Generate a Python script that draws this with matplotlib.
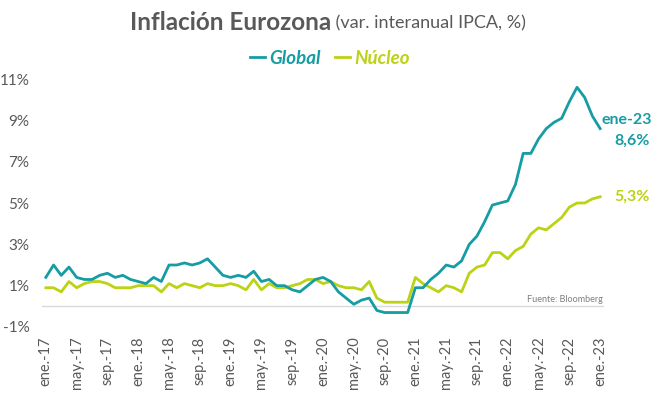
import matplotlib.pyplot as plt
import numpy as np

plt.rcParams["font.family"] = ["Lato", "DejaVu Sans"]

# monthly, ene-17 .. ene-23
global_vals = [
    1.4, 2.0, 1.5, 1.9, 1.4, 1.3, 1.3, 1.5, 1.6, 1.4, 1.5, 1.3,
    1.2, 1.1, 1.4, 1.2, 2.0, 2.0, 2.1, 2.0, 2.1, 2.3, 1.9, 1.5,
    1.4, 1.5, 1.4, 1.7, 1.2, 1.3, 1.0, 1.0, 0.8, 0.7, 1.0, 1.3,
    1.4, 1.2, 0.7, 0.4, 0.1, 0.3, 0.4, -0.2, -0.3, -0.3, -0.3, -0.3,
    0.9, 0.9, 1.3, 1.6, 2.0, 1.9, 2.2, 3.0, 3.4, 4.1, 4.9, 5.0,
    5.1, 5.9, 7.4, 7.4, 8.1, 8.6, 8.9, 9.1, 9.9, 10.6, 10.1, 9.2,
    8.6,
]
nucleo_vals = [
    0.9, 0.9, 0.7, 1.2, 0.9, 1.1, 1.2, 1.2, 1.1, 0.9, 0.9, 0.9,
    1.0, 1.0, 1.0, 0.7, 1.1, 0.9, 1.1, 1.0, 0.9, 1.1, 1.0, 1.0,
    1.1, 1.0, 0.8, 1.3, 0.8, 1.1, 0.9, 0.9, 1.0, 1.1, 1.3, 1.3,
    1.1, 1.2, 1.0, 0.9, 0.9, 0.8, 1.2, 0.4, 0.2, 0.2, 0.2, 0.2,
    1.4, 1.1, 0.9, 0.7, 1.0, 0.9, 0.7, 1.6, 1.9, 2.0, 2.6, 2.6,
    2.3, 2.7, 2.9, 3.5, 3.8, 3.7, 4.0, 4.3, 4.8, 5.0, 5.0, 5.2,
    5.3,
]
tick_labels = [
    "ene.-17", "may.-17", "sep.-17", "ene.-18", "may.-18", "sep.-18",
    "ene.-19", "may.-19", "sep.-19", "ene.-20", "may.-20", "sep.-20",
    "ene.-21", "may.-21", "sep.-21", "ene.-22", "may.-22", "sep.-22",
    "ene.-23",
]
y_ticks = [-1, 1, 3, 5, 7, 9, 11]

c_global = "#169CA3"
c_nucleo = "#BCD214"
grey = "#595959"

fig = plt.figure(figsize=(6.56, 3.93), dpi=100)
ax = fig.add_axes([42 / 656, 66 / 393, 562 / 656, 248 / 393])

x = np.arange(len(global_vals))
ax.axhline(0, color="#D9D9D9", lw=1.0, zorder=1)
ax.plot(x, nucleo_vals, color=c_nucleo, lw=2.0, solid_joinstyle="round", label="Núcleo", zorder=3)
ax.plot(x, global_vals, color=c_global, lw=2.0, solid_joinstyle="round", label="Global", zorder=3)

ax.set_xlim(-0.5, len(x) - 0.5)
ax.set_ylim(-1, 11)
ax.set_yticks(y_ticks)
ax.set_yticklabels([f"{v}%" for v in y_ticks], fontsize=11, color=grey)
ax.set_xticks(x[::4])
ax.set_xticklabels(tick_labels, rotation=90, fontsize=10.5, color=grey)
ax.tick_params(axis="both", length=0)
ax.tick_params(axis="y", pad=9)
ax.tick_params(axis="x", pad=7)
for s in ax.spines.values():
    s.set_visible(False)

# legend
h, l = ax.get_legend_handles_labels()
leg = fig.legend(h[::-1], l[::-1], loc="center", bbox_to_anchor=(330 / 656, 1 - 58 / 393),
                 ncol=2, frameon=False, handlelength=0.8, handletextpad=0.2,
                 columnspacing=0.8, prop={"weight": "bold", "style": "italic", "size": 13.5})
for t, c in zip(leg.get_texts(), [c_global, c_nucleo]):
    t.set_color(c)

# title: bold part + normal part, centred together
ta = fig.text(0, 1 - 23 / 393, "Inflación Eurozona", ha="left", va="center",
              fontsize=17.5, fontweight="bold", color=grey)
tb = fig.text(0, 1 - 23 / 393, " (var. interanual IPCA, %)", ha="left", va="center",
              fontsize=13, color=grey)
fig.canvas.draw()
r = fig.canvas.get_renderer()
wa = ta.get_window_extent(r).width
wb = tb.get_window_extent(r).width
x0 = (656 - wa - wb) / 2
ta.set_x(x0 / 656)
tb.set_x((x0 + wa) / 656)

# end labels
fig.text(652 / 656, 1 - 120 / 393, "ene-23", ha="right", va="center",
         fontsize=11.5, fontweight="bold", color=c_global)
fig.text(650 / 656, 1 - 141 / 393, "8,6%", ha="right", va="center",
         fontsize=11.5, fontweight="bold", color=c_global)
fig.text(650 / 656, 1 - 197 / 393, "5,3%", ha="right", va="center",
         fontsize=11.5, fontweight="bold", color=c_nucleo)

fig.text(603 / 656, 1 - 300 / 393, "Fuente: Bloomberg", ha="right", va="center",
         fontsize=6.5, color="#7F7F7F")

fig.savefig("out.png", dpi=100)
